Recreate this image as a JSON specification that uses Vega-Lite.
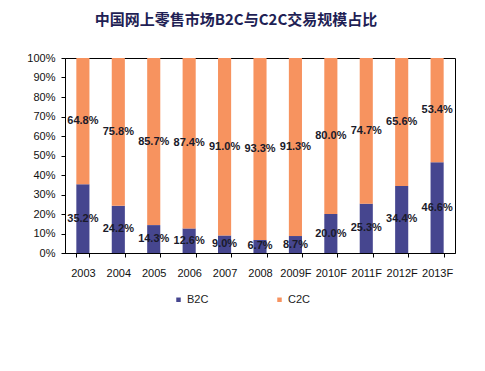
{
  "$schema": "https://vega.github.io/schema/vega-lite/v6.json",
  "autosize": {"type": "none"},
  "padding": {"left": 65, "top": 58, "right": 30, "bottom": 118},
  "width": 390,
  "height": 195,
  "background": "white",
  "view": {"stroke": "#000000", "strokeWidth": 1, "strokeOpacity": 1},
  "title": {
    "text": "中国网上零售市场B2C与C2C交易规模占比",
    "anchor": "middle",
    "dx": -24,
    "offset": 24,
    "fontSize": 15,
    "fontWeight": "bold",
    "font": "Noto Sans CJK SC",
    "color": "#1f1f55"
  },
  "data": {
    "values": [
      {"year": "2003", "type": "B2C", "share": 0.352},
      {"year": "2003", "type": "C2C", "share": 0.648},
      {"year": "2004", "type": "B2C", "share": 0.242},
      {"year": "2004", "type": "C2C", "share": 0.758},
      {"year": "2005", "type": "B2C", "share": 0.143},
      {"year": "2005", "type": "C2C", "share": 0.857},
      {"year": "2006", "type": "B2C", "share": 0.126},
      {"year": "2006", "type": "C2C", "share": 0.874},
      {"year": "2007", "type": "B2C", "share": 0.090},
      {"year": "2007", "type": "C2C", "share": 0.910},
      {"year": "2008", "type": "B2C", "share": 0.067},
      {"year": "2008", "type": "C2C", "share": 0.933},
      {"year": "2009F", "type": "B2C", "share": 0.087},
      {"year": "2009F", "type": "C2C", "share": 0.913},
      {"year": "2010F", "type": "B2C", "share": 0.200},
      {"year": "2010F", "type": "C2C", "share": 0.800},
      {"year": "2011F", "type": "B2C", "share": 0.253},
      {"year": "2011F", "type": "C2C", "share": 0.747},
      {"year": "2012F", "type": "B2C", "share": 0.344},
      {"year": "2012F", "type": "C2C", "share": 0.656},
      {"year": "2013F", "type": "B2C", "share": 0.466},
      {"year": "2013F", "type": "C2C", "share": 0.534}
    ]
  },
  "transform": [
    {"calculate": "datum.type === 'B2C' ? 0 : 1", "as": "order"},
    {"stack": "share", "groupby": ["year"], "sort": [{"field": "order", "order": "ascending"}], "as": ["s0", "s1"]},
    {"calculate": "(datum.s0 + datum.s1) / 2", "as": "mid"}
  ],
  "encoding": {
    "x": {
      "field": "year",
      "type": "nominal",
      "sort": null,
      "scale": {"paddingInner": 0.63, "paddingOuter": 0.32},
      "axis": {
        "title": null,
        "labelAngle": 0,
        "labelFont": "Liberation Sans",
        "labelFontSize": 11,
        "labelColor": "#111111",
        "labelPadding": 10,
        "labelOverlap": false,
        "domainColor": "#000000",
        "tickColor": "#000000",
        "tickBand": "extent",
        "tickSize": 4,
        "ticks": true
      }
    }
  },
  "layer": [
    {
      "mark": {"type": "bar"},
      "encoding": {
        "y": {
          "field": "s1",
          "type": "quantitative",
          "scale": {"domain": [0, 1]},
          "axis": {
            "title": null,
            "format": ".0%",
            "values": [0, 0.1, 0.2, 0.3, 0.4, 0.5, 0.6, 0.7, 0.8, 0.9, 1],
            "labelOverlap": false,
            "grid": false,
            "labelFont": "Liberation Sans",
            "labelFontSize": 11,
            "labelColor": "#111111",
            "labelPadding": 6,
            "domainColor": "#000000",
            "tickColor": "#000000",
            "tickSize": 4
          }
        },
        "y2": {"field": "s0"},
        "color": {
          "field": "type",
          "type": "nominal",
          "scale": {"domain": ["B2C", "C2C"], "range": ["#46468f", "#f7935f"]},
          "legend": {
            "title": null,
            "orient": "none",
            "direction": "horizontal",
            "legendX": 108,
            "legendY": 236,
            "symbolType": "square",
            "symbolSize": 20,
            "symbolStrokeWidth": 0,
            "labelFont": "Liberation Sans",
            "labelFontSize": 11,
            "labelColor": "#222222",
            "columnPadding": 65,
            "labelOffset": 3
          }
        }
      }
    },
    {
      "mark": {"type": "text", "font": "Liberation Sans", "fontSize": 11, "fontWeight": "bold", "color": "#1a1a2a", "baseline": "middle"},
      "encoding": {
        "y": {
          "field": "mid",
          "type": "quantitative",
          "scale": {"domain": [0, 1]},
          "axis": {
            "title": null,
            "format": ".0%",
            "values": [0, 0.1, 0.2, 0.3, 0.4, 0.5, 0.6, 0.7, 0.8, 0.9, 1],
            "labelOverlap": false,
            "grid": false,
            "labelFont": "Liberation Sans",
            "labelFontSize": 11,
            "labelColor": "#111111",
            "labelPadding": 6,
            "domainColor": "#000000",
            "tickColor": "#000000",
            "tickSize": 4
          }
        },
        "text": {"field": "share", "type": "quantitative", "format": ".1%"}
      }
    }
  ]
}
